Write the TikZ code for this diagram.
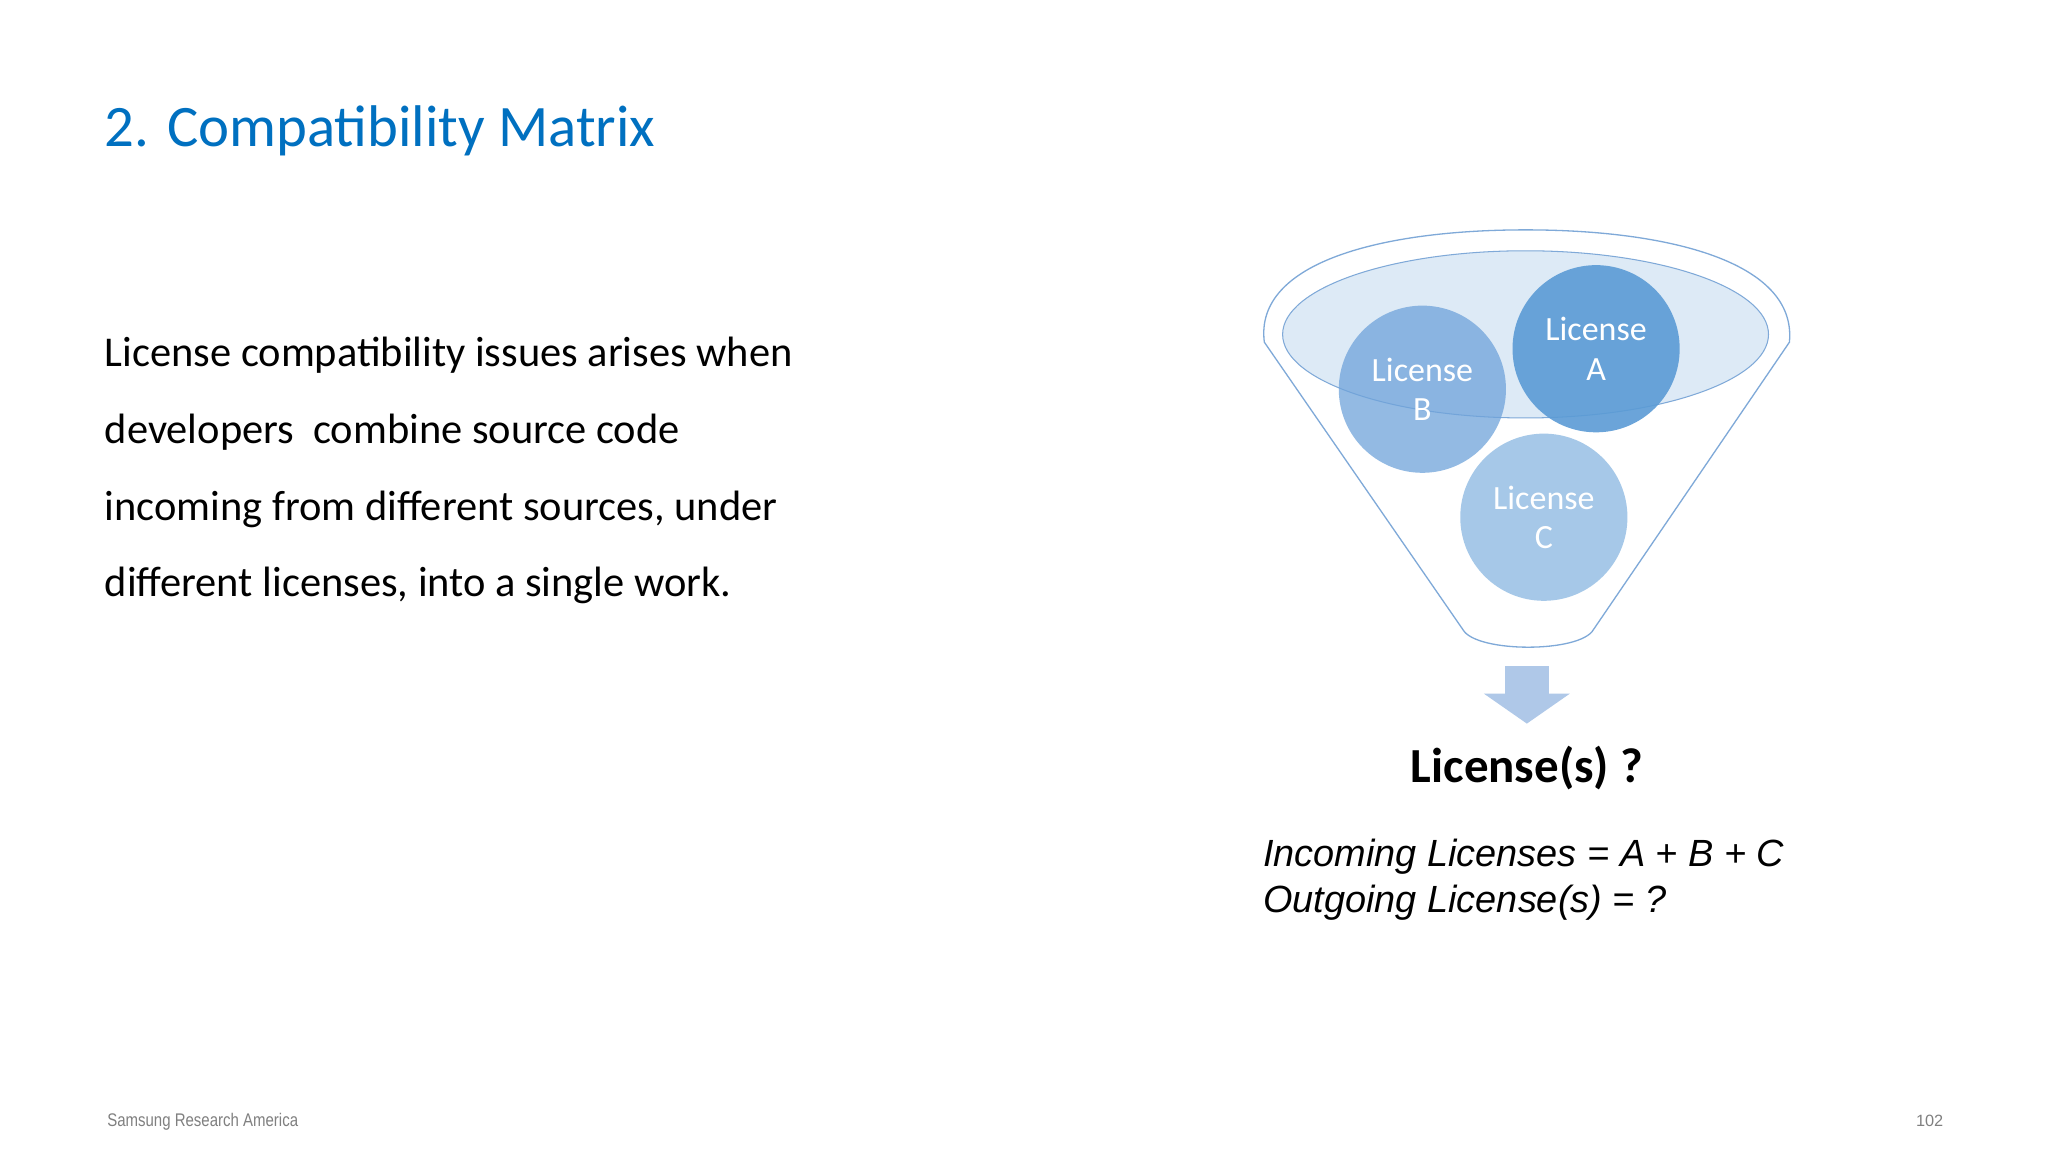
\documentclass[tikz,border=0pt]{standalone}
\usepackage{fontspec}
\setmainfont{Carlito}
\newfontfamily\arialf{Liberation Sans}
\definecolor{ttl}{HTML}{0070C0}
\definecolor{cA}{HTML}{5B9BD5}
\definecolor{cB}{HTML}{6FA3DA}
\definecolor{cC}{HTML}{9DC3E6}
\definecolor{edge}{HTML}{7FA9D8}
\definecolor{arr}{HTML}{AFC8E8}
\begin{document}
\begin{tikzpicture}[x=1pt,y=-1pt,
  body/.style={anchor=west,font=\fontsize{32.5}{38}\selectfont,inner sep=0},
  lic/.style={circle,minimum size=128pt,inner sep=0,text=white,align=center,font=\fontsize{26}{30}\selectfont}]
\useasboundingbox[fill=white] (0,0) rectangle (1568,882);
\node[anchor=west,text=ttl,font=\fontsize{45}{52}\selectfont,inner sep=0] (title) at (80,100) {2. Compatibility Matrix};
\node[body] (l1) at (80,272) {License compatibility issues arises when};
\node[body] (l2) at (80,331) {developers\ \ combine source code};
\node[body] (l3) at (80,390) {incoming from different sources, under};
\node[body] (l4) at (80,448) {different licenses, into a single work.};
% funnel
\draw[edge,line width=1pt,fill=white] (968,262) .. controls (960,200) and (1060,176) .. (1168,176) .. controls (1276,176) and (1376,200) .. (1370,262)
  -- (1220,482) .. controls (1210,500) and (1130,500) .. (1120,482) -- cycle;
\draw[edge,line width=0.8pt,fill=cC!35] (1168,256) ellipse [x radius=186,y radius=64];
\node[lic,fill=cB,fill opacity=0.75,text opacity=1] (B) at (1089,298) {License\\B};
\node[lic,fill=cC,fill opacity=0.9,text opacity=1] (C) at (1182,396) {License\\C};
\node[lic,fill=cA,fill opacity=0.9,text opacity=1] (A) at (1222,267) {License\\A};
% arrow
\fill[arr] (1152,510) rectangle (1186,532);
\fill[arr] (1136,531) -- (1202,531) -- (1169,554) -- cycle;
\node[font=\bfseries\fontsize{37.5}{44}\selectfont] (res) at (1169,588) {License(s) ?};
\node[anchor=west,inner sep=0,font=\arialf\itshape\fontsize{29}{35}\selectfont] (f1) at (967,656) {Incoming Licenses = A + B + C};
\node[anchor=west,inner sep=0,font=\arialf\itshape\fontsize{29}{35}\selectfont] (f2) at (967,691) {Outgoing License(s) = ?};
\node[anchor=west,inner sep=0,text=gray,font=\arialf\fontsize{14}{16}\selectfont,xscale=0.82] (ft) at (82,859) {Samsung Research America};
\node[anchor=east,inner sep=0,text=gray,font=\arialf\fontsize{12.5}{14}\selectfont] (pg) at (1488,858) {102};
\end{tikzpicture}
\end{document}
